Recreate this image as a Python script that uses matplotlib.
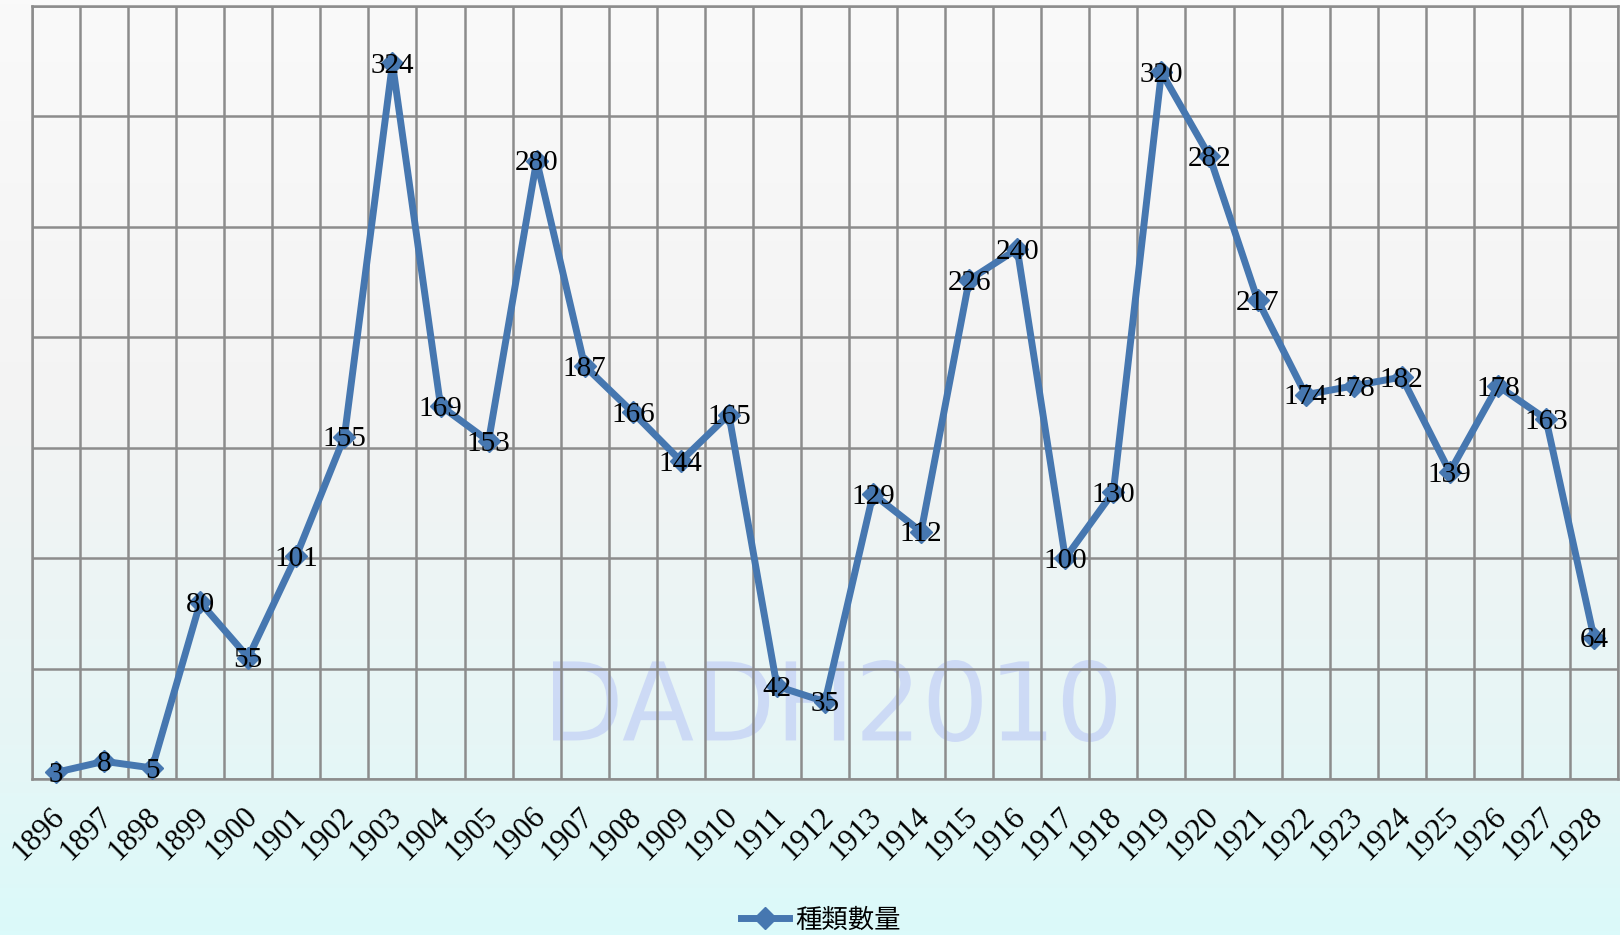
"""Line chart of yearly 種類數量 counts, 1896-1928, with watermark and gradient background."""
import numpy as np
import matplotlib.pyplot as plt
from matplotlib.textpath import TextPath
from matplotlib.patches import PathPatch
from matplotlib.font_manager import FontProperties
from matplotlib.transforms import Affine2D
from matplotlib.colors import LinearSegmentedColormap

years = [str(y) for y in range(1896, 1929)]
counts = [3, 8, 5, 80, 55, 101, 155, 324, 169, 153,
          280, 187, 166, 144, 165, 42, 35, 129, 112, 226,
          240, 100, 130, 320, 282, 217, 174, 178, 182, 139,
          178, 163, 64]
series_name = "種類數量"

LINE_COLOR = "#4677b0"
GRID_COLOR = "#8c8c8c"
SERIF = ["Liberation Serif", "DejaVu Serif"]

fig = plt.figure(figsize=(16.2, 9.35), dpi=100)

# --- background gradient (whole figure) ---
bg = fig.add_axes([0, 0, 1, 1], zorder=-1)
cmap = LinearSegmentedColormap.from_list(
    "bg", [(0.0, "#fafafa"), (0.45, "#f3f3f3"), (0.8, "#e6f6f6"), (1.0, "#dbfafa")])
bg.imshow(np.linspace(0, 1, 256).reshape(-1, 1), cmap=cmap, aspect="auto",
          extent=(0, 1, 0, 1), transform=bg.transAxes)
bg.set_axis_off()

# watermark, stretched to fit its box
tp = TextPath((0, 0), "DADH2010", size=1, prop=FontProperties(family="DejaVu Sans"))
ext = tp.get_extents()
x0, x1, y0, y1 = 553 / 1620, 1116 / 1620, 1 - 742 / 935, 1 - 660 / 935
wm_trans = (Affine2D().translate(-ext.x0, -ext.y0)
            .scale((x1 - x0) / ext.width, (y1 - y0) / ext.height)
            .translate(x0, y0) + fig.transFigure)
bg.add_patch(PathPatch(tp, transform=wm_trans, facecolor="#cad8f6",
                       edgecolor="none", alpha=0.9))

# --- main chart ---
ax = fig.add_axes([32 / 1620, 1 - 779 / 935, 1586 / 1620, 773 / 935])
ax.set_facecolor("none")
x = np.arange(len(years))
ax.plot(x, counts, color=LINE_COLOR, linewidth=5, marker="D", markersize=11,
        markeredgecolor=LINE_COLOR, label=series_name, zorder=3, clip_on=False)

for xi, v in zip(x, counts):
    ax.annotate(str(v), (xi, v), xytext=(0, -2), textcoords="offset points",
                ha="center", va="center", fontsize=21, family=SERIF, zorder=4)

# category labels, slanted under each category
for xi, yr in zip(x, years):
    ax.annotate(yr, (xi, 0), xycoords=("data", "axes fraction"),
                xytext=(10.5, -16.5), textcoords="offset points",
                rotation=45, ha="right", va="top", fontsize=22, family=SERIF)

ax.set_xlim(-0.5, len(years) - 0.5)
ax.set_ylim(0, 350)
ax.set_yticks(np.arange(0, 351, 50))
ax.set_yticklabels([])
ax.set_xticks(np.arange(-0.5, len(years), 1), minor=True)
ax.set_xticks(x)
ax.set_xticklabels([])
ax.tick_params(axis="both", which="both", length=0)

ax.grid(True, axis="y", which="major", color=GRID_COLOR, linewidth=1.8)
ax.grid(True, axis="x", which="minor", color=GRID_COLOR, linewidth=1.8)
ax.grid(False, axis="x", which="major")
ax.set_axisbelow(True)
for s in ax.spines.values():
    s.set_color(GRID_COLOR)
    s.set_linewidth(1.8)

fig.legend(loc="center", bbox_to_anchor=(821 / 1620, 1 - 920 / 935), frameon=False,
           prop=FontProperties(family=["Noto Sans CJK TC", "DejaVu Sans"], size=19),
           handlelength=1.8, handletextpad=0.25)

fig.savefig("out.png", dpi=100)
